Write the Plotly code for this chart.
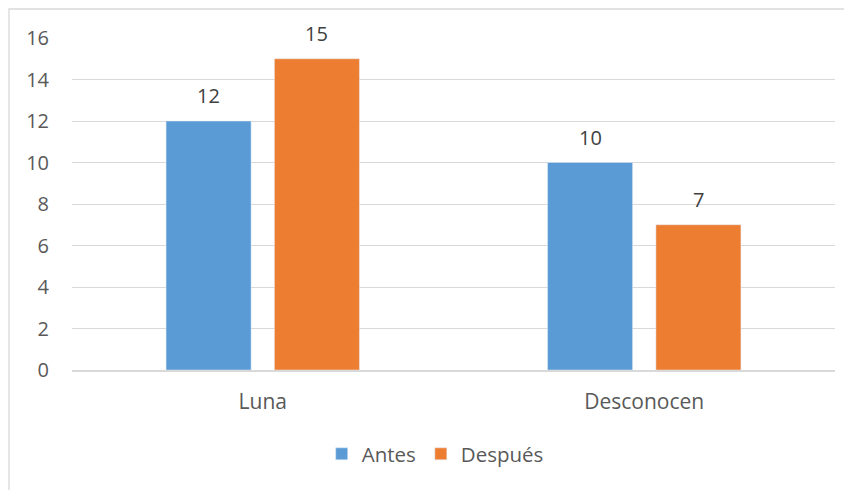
import plotly.graph_objects as go

categories = ["Luna", "Desconocen"]
antes = [12, 10]
despues = [15, 7]
series_names = ["Antes", "Después"]
y_ticks = [0, 2, 4, 6, 8, 10, 12, 14, 16]

BLUE = "#5B9BD5"
ORANGE = "#ED7D31"
FONT = "Open Sans"

fig = go.Figure()
fig.add_trace(go.Bar(name=series_names[0], x=categories, y=antes, marker_color=BLUE))
fig.add_trace(go.Bar(name=series_names[1], x=categories, y=despues, marker_color=ORANGE))

# data labels
for vals, shift in ((antes, -54), (despues, 54)):
    for c, v in zip(categories, vals):
        fig.add_annotation(x=c, y=v, text=str(v), showarrow=False, xshift=shift,
                           yanchor="bottom", yshift=10,
                           font=dict(family=FONT, size=20, color="#404040"))

# outer chart border (cropped at right/bottom)
fig.add_shape(type="rect", xref="paper", yref="paper",
              x0=-0.0826, x1=1.06, y0=-0.45, y1=1.0873,
              line=dict(color="#D9D9D9", width=1.3), fillcolor="rgba(0,0,0,0)", layer="below")

fig.update_layout(
    width=852, height=490,
    margin=dict(l=64, r=25, t=30, b=128),
    paper_bgcolor="white", plot_bgcolor="white",
    barmode="group", bargap=0.432, bargroupgap=0.215,
    font=dict(family=FONT, size=20, color="#595959"),
    showlegend=True,
    legend=dict(orientation="h", x=0.476, xanchor="center", y=-0.253, yanchor="middle",
                font=dict(family=FONT, size=20.5, color="#595959"), itemwidth=30),
    xaxis=dict(showgrid=False, showline=True, linecolor="#D9D9D9", linewidth=1.5,
               ticks="", ticklabelstandoff=12, tickfont=dict(size=21, color="#595959")),
    yaxis=dict(range=[0, 16], tickvals=y_ticks, showgrid=True, gridcolor="#D9D9D9",
               gridwidth=1.3, zeroline=False, showline=False, ticks="",
               ticklabelstandoff=22, tickfont=dict(size=20, color="#595959")),
)

fig.write_html("out.html")
